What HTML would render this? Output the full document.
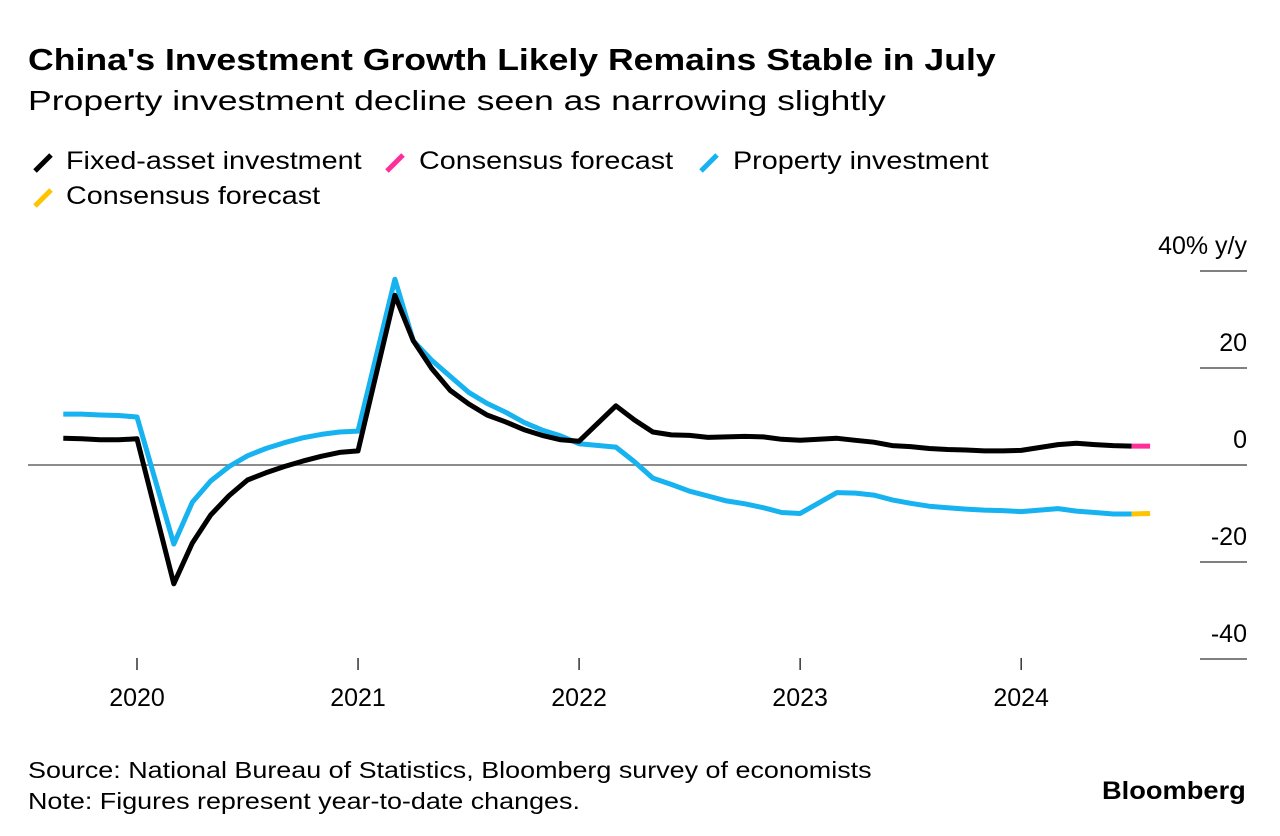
<!DOCTYPE html>
<html><head><meta charset="utf-8"><style>
body{margin:0;background:#fff;font-family:"Liberation Sans",sans-serif;}
#wrap{position:relative;width:1280px;height:836px;overflow:hidden}
.t{position:absolute;white-space:nowrap;color:#000;transform-origin:0 0}
</style></head><body><div id="wrap">
<div class="t" style="left:28px;top:42px;font-size:31px;font-weight:bold;transform:scaleX(1.148)">China's Investment Growth Likely Remains Stable in July</div>
<div class="t" style="left:28px;top:85px;font-size:28px;transform:scaleX(1.27)">Property investment decline seen as narrowing slightly</div>
<svg class="t" style="left:30px;top:150px" width="30" height="24"><line x1="5" y1="21" x2="21" y2="5" stroke="#000" stroke-width="5"/></svg>
<div class="t" style="left:66px;top:147px;font-size:25px;transform:scaleX(1.15)">Fixed-asset investment</div>
<svg class="t" style="left:382px;top:150px" width="30" height="24"><line x1="5" y1="21" x2="21" y2="5" stroke="#ff2e9a" stroke-width="5"/></svg>
<div class="t" style="left:419px;top:147px;font-size:25px;transform:scaleX(1.15)">Consensus forecast</div>
<svg class="t" style="left:696px;top:150px" width="30" height="24"><line x1="5" y1="21" x2="21" y2="5" stroke="#17b2f0" stroke-width="5"/></svg>
<div class="t" style="left:733px;top:147px;font-size:25px;transform:scaleX(1.15)">Property investment</div>
<svg class="t" style="left:30px;top:185px" width="30" height="24"><line x1="5" y1="21" x2="21" y2="5" stroke="#ffc400" stroke-width="5"/></svg>
<div class="t" style="left:66px;top:182px;font-size:25px;transform:scaleX(1.15)">Consensus forecast</div>
<svg id="plot" width="1280" height="836" style="position:absolute;left:0;top:0"></svg>
<div class="t" style="left:28px;top:755px;font-size:23px;line-height:31px;transform:scaleX(1.17)">Source: National Bureau of Statistics, Bloomberg survey of economists<br>Note: Figures represent year-to-date changes.</div>
<div class="t" style="left:1102px;top:777px;font-size:25px;font-weight:bold;transform:scaleX(1.09)">Bloomberg</div>
</div>
<script>
// month index: 0 = Dec 2019; Jan months absent (combined Jan-Feb)
const months=[-4,-3,-2,-1,0, 2,3,4,5,6,7,8,9,10,11,12, 14,15,16,17,18,19,20,21,22,23,24, 26,27,28,29,30,31,32,33,34,35,36, 38,39,40,41,42,43,44,45,46,47,48, 50,51,52,53,54];
const faiValues=[5.5,5.4,5.2,5.2,5.4, -24.5,-16.1,-10.3,-6.3,-3.1,-1.6,-0.3,0.8,1.8,2.6,2.9, 35.0,25.6,19.9,15.4,12.6,10.3,8.9,7.3,6.1,5.2,4.9, 12.2,9.3,6.8,6.2,6.1,5.7,5.8,5.9,5.8,5.3,5.1, 5.5,5.1,4.7,4.0,3.8,3.4,3.2,3.1,2.9,2.9,3.0, 4.2,4.5,4.2,4.0,3.9];
const propValues=[10.5,10.5,10.3,10.2,9.9, -16.3,-7.7,-3.3,-0.3,1.9,3.4,4.6,5.6,6.3,6.8,7.0, 38.3,25.6,21.6,18.3,15.0,12.7,10.9,8.8,7.2,6.0,4.4, 3.7,0.7,-2.7,-4.0,-5.4,-6.4,-7.4,-8.0,-8.8,-9.8,-10.0, -5.7,-5.8,-6.2,-7.2,-7.9,-8.5,-8.8,-9.1,-9.3,-9.4,-9.6, -9.0,-9.5,-9.8,-10.1,-10.1];
const forecastMonth=55;
const faiForecast=3.9;
const propForecast=-10.0;
const yTicks=[40,20,0,-20,-40];
const yearLabels=["2020","2021","2022","2023","2024"];
const yearTickMonths=[0,12,24,36,48];

const svg=document.getElementById('plot');const NS='http://www.w3.org/2000/svg';
const x=m=>137+m*18.42;
const y=v=>465-v*4.85;
function mk(tag,attrs){const e=document.createElementNS(NS,tag);for(const k in attrs)e.setAttribute(k,attrs[k]);svg.appendChild(e);return e;}
yTicks.forEach(v=>{
  const l=mk('line',{x1:1200,x2:1247,y1:y(v),y2:y(v),stroke:'#000','stroke-width':1});
  
  
  const t=mk('text',{x:1247,y:y(v)-17,'text-anchor':'end','font-size':25,'font-family':'Liberation Sans, sans-serif'});
  t.textContent=v===40?'40% y/y':String(v);
  
  
});
const z=mk('line',{x1:28,x2:1200,y1:y(0),y2:y(0),stroke:'#666','stroke-width':1.5});


yearLabels.forEach((lab,i)=>{
  const xx=x(yearTickMonths[i]);
  const tk=mk('line',{x1:xx,x2:xx,y1:658,y2:670,stroke:'#000','stroke-width':1.2});
  
  
  const t=mk('text',{x:xx,y:706,'text-anchor':'middle','font-size':25,'font-family':'Liberation Sans, sans-serif'});
  t.textContent=lab;
  
  
});
function line(vals,color,name){
  const d=vals.map((v,i)=>(i?'L':'M')+x(months[i]).toFixed(1)+','+y(v).toFixed(1)).join('');
  const p=mk('path',{d:d,fill:'none',stroke:color,'stroke-width':5,'stroke-linejoin':'round'});
  
  
}
function fc(last,val,color,name){
  const lm=months[months.length-1];
  const p=mk('line',{x1:x(lm),y1:y(last),x2:x(forecastMonth),y2:y(val),stroke:color,'stroke-width':5});
  
  
}
line(propValues,'#17b2f0','property-investment-line');
line(faiValues,'#000','fixed-asset-investment-line');
fc(faiValues[faiValues.length-1],faiForecast,'#ff2e9a','fai-forecast-segment');
fc(propValues[propValues.length-1],propForecast,'#ffc400','property-forecast-segment');
</script></body></html>
